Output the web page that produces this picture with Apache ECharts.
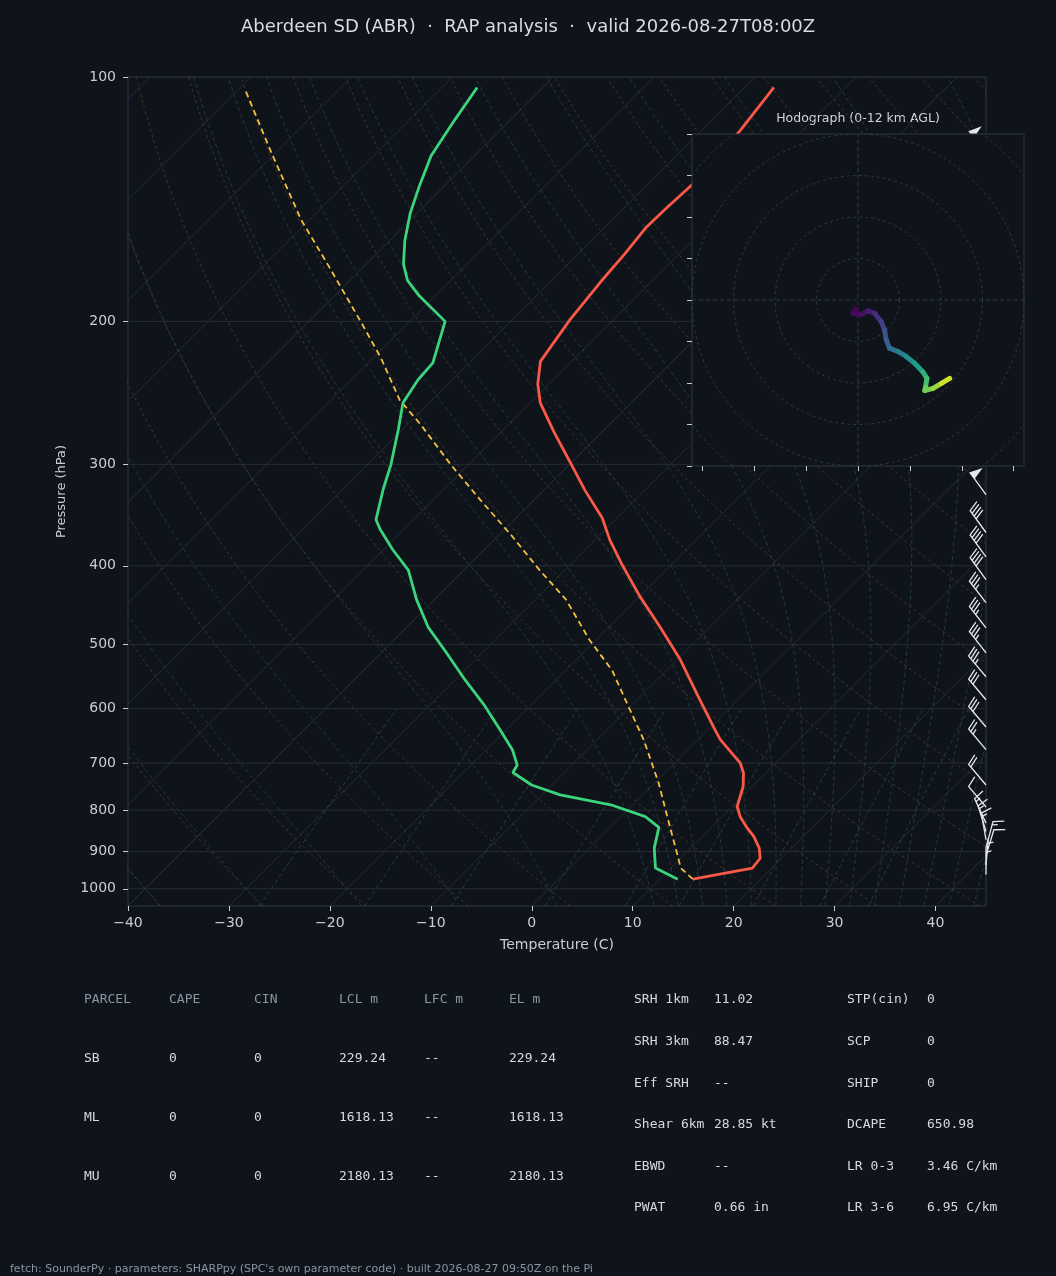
<!DOCTYPE html>
<html>
<head>
<meta charset="utf-8">
<title>Skew-T ABR</title>
<script src="https://cdn.jsdelivr.net/npm/echarts@6/dist/echarts.min.js"></script>
<style>
html, body { margin: 0; padding: 0; background: #0f131a; }
#chart { width: 1056px; height: 1276px; }
</style>
</head>
<body>
<div id="chart"></div>
<script>
// sounding (hPa / degC)
var tempP = [973, 943, 917, 891, 862, 840, 815, 792, 773, 748, 720, 700, 655, 637, 577, 522, 477, 436, 400, 372, 349, 323, 298, 274, 252, 239, 224, 199, 179, 165, 153, 145, 133, 116, 103];
var tempC = [13.3, 18.1, 17.9, 16.8, 15.1, 13.5, 11.8, 10.5, 9.9, 9.1, 7.8, 6.5, 2.2, 0.7, -4.5, -9.7, -14.8, -20.0, -24.7, -28.5, -31.5, -35.9, -40.2, -44.7, -49.0, -51.1, -53.1, -54.3, -55.0, -55.4, -55.9, -55.8, -55.5, -56.2, -57.1];
var dewP = [973, 943, 891, 840, 815, 788, 766, 745, 719, 704, 674, 637, 593, 553, 508, 476, 440, 405, 382, 361, 351, 322, 300, 272, 252, 236, 225, 200, 186, 178, 170, 159, 147, 136, 125, 113, 103];
var dewC = [11.8, 8.5, 6.4, 4.8, 2.4, -2.2, -8.2, -12.0, -15.1, -15.4, -17.4, -20.6, -24.7, -29.0, -34.0, -37.9, -41.8, -45.5, -49.1, -52.3, -53.7, -56.0, -57.7, -60.4, -62.6, -63.4, -63.6, -66.5, -71.6, -74.3, -76.3, -78.5, -80.7, -82.5, -84.3, -85.5, -86.5];
var parcelP = [973, 943, 913, 838, 741, 655, 602, 538, 494, 440, 405, 366, 332, 300, 268, 250, 222, 201, 171, 150, 124, 104];
var parcelC = [13.3, 11.0, 9.6, 5.8, 0.4, -5.4, -9.7, -15.4, -20.6, -27.0, -32.5, -38.9, -45.3, -51.8, -58.7, -63.2, -69.2, -74.6, -83.5, -90.8, -100.4, -109.1];

// wind barbs: pressure, speed (kt), direction (deg)
var barbP = [124, 150, 175, 200, 225, 250, 275, 300, 327, 364, 390, 416, 444, 477, 512, 548, 585, 632, 674, 745, 793, 830, 850, 870, 890, 910, 935, 960];
var barbSpd = [55, 55, 55, 55, 55, 50, 50, 50, 50, 40, 40, 40, 35, 35, 35, 35, 30, 30, 25, 20, 10, 15, 15, 15, 15, 10, 5, 5];
var barbDir = [322, 322, 322, 322, 324, 324, 324, 324, 324, 324, 324, 324, 322, 322, 322, 320, 320, 320, 320, 320, 320, 335, 343, 350, 15, 17, 5, 0];

// hodograph (u, v) and height km
var hodoU = [-0.6, -1.2, 0.8, 2.4, 4.0, 5.6, 6.4, 6.8, 7.6, 9.6, 11.6, 13.6, 15.6, 16.6, 16.3, 16.1, 18.1, 20.1, 22.1];
var hodoV = [-2.0, -3.2, -3.5, -2.6, -3.2, -5.2, -7.2, -9.6, -11.6, -12.4, -13.6, -15.2, -17.3, -18.9, -20.9, -21.8, -21.3, -20.1, -18.9];
var hodoH = [0, 0.3, 0.6, 1.0, 1.6, 2.3, 3.0, 3.6, 4.3, 5.0, 5.8, 6.6, 7.6, 8.4, 9.0, 9.4, 10.2, 11.1, 12.0];

var tempTicks = [-40, -30, -20, -10, 0, 10, 20, 30, 40];
var presTicks = [100, 200, 300, 400, 500, 600, 700, 800, 900, 1000];
var hodoXTicks = [-37.5, -25, -12.5, 0, 12.5, 25, 37.5];
var hodoYTicks = [-40, -30, -20, -10, 0, 10, 20, 30, 40];

var parcelHeader = ['PARCEL', 'CAPE', 'CIN', 'LCL m', 'LFC m', 'EL m'];
var parcelRows = [
    ['SB', '0', '0', '229.24', '--', '229.24'],
    ['ML', '0', '0', '1618.13', '--', '1618.13'],
    ['MU', '0', '0', '2180.13', '--', '2180.13']
];
var paramsA = [['SRH 1km', '11.02'], ['SRH 3km', '88.47'], ['Eff SRH', '--'], ['Shear 6km', '28.85 kt'], ['EBWD', '--'], ['PWAT', '0.66 in']];
var paramsB = [['STP(cin)', '0'], ['SCP', '0'], ['SHIP', '0'], ['DCAPE', '650.98'], ['LR 0-3', '3.46 C/km'], ['LR 3-6', '6.95 C/km']];

var titleText = 'Aberdeen SD (ABR)  \u00b7  RAP analysis  \u00b7  valid 2026-08-27T08:00Z';
var footerText = "fetch: SounderPy \u00b7 parameters: SHARPpy (SPC's own parameter code) \u00b7 built 2026-08-27 09:50Z on the Pi";

var BG = '#0f131a';
var FRAME = '#2e3846';
var TICK = '#c9ced6';
var SANS = 'DejaVu Sans';
var MONO = 'DejaVu Sans Mono';

// skew-T geometry: 45 degree isotherms
var P_BOT = 1050, P_TOP = 100;
var LOG_BOT = Math.log10(P_BOT);
var SKEW = 80.42;
function skewX(p, t) { return t + SKEW * (LOG_BOT - Math.log10(p)); }
function pt(p, t) { return [skewX(p, t), Math.log10(p)]; }

var series = [];
function bgLine(data, color, dash) {
    series.push({
        type: 'line', xAxisIndex: 0, yAxisIndex: 0, data: data, symbol: 'none',
        silent: true, clip: true, z: 1,
        lineStyle: { color: color, width: 1, type: dash || 'solid' }
    });
}

var levels = [];
for (var lp = 1050; lp >= 100; lp -= 10) levels.push(lp);

// isobars
presTicks.forEach(function (p) {
    bgLine([[-40, Math.log10(p)], [45, Math.log10(p)]], '#262d37');
});
// isotherms
for (var it = -130; it <= 40; it += 10) {
    bgLine([pt(P_BOT, it), pt(P_TOP, it)], '#262d37');
}
// dry adiabats
for (var th = -40; th <= 200; th += 10) {
    bgLine(levels.map(function (p) {
        return pt(p, (th + 273.15) * Math.pow(p / 1000, 0.2857) - 273.15);
    }), '#42372a', [3, 3]);
}
// moist adiabats
function moistCurve(t0) {
    var Rd = 287.04749, Cp = 1004.6662, Lv = 2.501e6, eps = 0.622;
    function f(p, T) {
        var tc = T - 273.15;
        var e = 6.112 * Math.exp(17.67 * tc / (tc + 243.5));
        var r = eps * e / (p - e);
        return (Rd * T + Lv * r) / (Cp + Lv * Lv * r * eps / (Rd * T * T)) / p;
    }
    function run(pEnd, h) {
        var out = [], p = 1000, T = t0 + 273.15;
        while ((h < 0 && p > pEnd) || (h > 0 && p < pEnd)) {
            var k1 = f(p, T), k2 = f(p + h / 2, T + h / 2 * k1);
            var k3 = f(p + h / 2, T + h / 2 * k2), k4 = f(p + h, T + h * k3);
            T += h / 6 * (k1 + 2 * k2 + 2 * k3 + k4);
            p += h;
            out.push(pt(p, T - 273.15));
        }
        return out;
    }
    return run(1050, 5).reverse().concat([pt(1000, t0)], run(100, -5));
}
var moistT0 = [-50, -40, -30, -20, -10, 0, 10];
for (var mt = 12.5; mt <= 45; mt += 2.5) moistT0.push(mt);
moistT0.forEach(function (t0) { bgLine(moistCurve(t0), '#233a44', [4, 3]); });
// mixing ratio lines
[0.0004, 0.001, 0.002, 0.004, 0.007, 0.01, 0.016, 0.024, 0.032].forEach(function (w) {
    var d = [];
    for (var p = 1050; p >= 600; p -= 10) {
        var e = p * w / (0.622 + w);
        var l = Math.log(e / 6.112);
        d.push(pt(p, 243.5 * l / (17.67 - l)));
    }
    bgLine(d, '#27403f', [4, 3]);
});

// profiles
function profile(ps, ts, color, width, dash, z) {
    series.push({
        type: 'line', xAxisIndex: 0, yAxisIndex: 0, symbol: 'none', silent: true, z: z,
        data: ps.map(function (p, i) { return pt(p, ts[i]); }),
        lineStyle: { color: color, width: width, type: dash || 'solid' }
    });
}
profile(parcelP, parcelC, '#f2c13f', 1.8, [6, 4], 4);
profile(dewP, dewC, '#3bd47d', 2.8, null, 5);
profile(tempP, tempC, '#fb5947', 2.8, null, 5);

// wind barbs at the right edge
function barbShape(x0, y0, spd, dir) {
    var L = 27, H = 0.4 * L, W = 0.25 * L, S = 0.125 * L;
    var r = Math.round(spd / 5) * 5;
    var nf = Math.floor(r / 50), rem = r - nf * 50;
    var nb = Math.floor(rem / 10), half = (rem - nb * 10) >= 5;
    var d = dir * Math.PI / 180;
    var sx = Math.sin(d), sy = -Math.cos(d), fx = Math.cos(d), fy = Math.sin(d);
    function P(a, b) { return [x0 + b * sx + a * fx, y0 + b * sy + a * fy]; }
    var pts = [P(0, 0)], off = L, i;
    for (i = 0; i < nf; i++) {
        if (off !== L) off += S / 2;
        pts.push(P(0, off), P(H, off - W / 2), P(0, off - W));
        off -= W + S;
    }
    for (i = 0; i < nb; i++) {
        pts.push(P(0, off), P(H, off + W / 2), P(0, off));
        off -= S;
    }
    if (half) {
        if (off === L) { pts.push(P(0, off)); off -= 1.5 * S; }
        pts.push(P(0, off), P(H / 2, off + W / 4), P(0, off));
    }
    return pts;
}
series.push({
    type: 'custom', xAxisIndex: 0, yAxisIndex: 0, z: 6, silent: true, clip: false,
    data: barbP.map(function (p, i) { return [45, Math.log10(p), barbSpd[i], barbDir[i]]; }),
    renderItem: function (params, api) {
        var c = api.coord([api.value(0), api.value(1)]);
        return {
            type: 'polygon',
            shape: { points: barbShape(c[0], c[1], api.value(2), api.value(3)) },
            style: { fill: '#e4e7ec', stroke: '#e4e7ec', lineWidth: 1.3 }
        };
    }
});

// hodograph inset
function hodoLine(data, dash) {
    series.push({
        type: 'line', xAxisIndex: 1, yAxisIndex: 1, data: data, symbol: 'none',
        silent: true, clip: true, z: 21,
        lineStyle: { color: FRAME, width: 1, type: dash }
    });
}
for (var rr = 10; rr <= 60; rr += 10) {
    var ring = [];
    for (var a = 0; a <= 360; a += 2) {
        ring.push([rr * Math.cos(a * Math.PI / 180), rr * Math.sin(a * Math.PI / 180)]);
    }
    hodoLine(ring, [3, 3]);
}
hodoLine([[-40, 0], [40, 0]], [4, 3]);
hodoLine([[0, -40], [0, 40]], [4, 3]);

var hodoIndex = series.length;
series.push({
    type: 'custom', xAxisIndex: 1, yAxisIndex: 1, z: 22, silent: true,
    data: hodoU.slice(0, -1).map(function (u, i) {
        return [u, hodoV[i], hodoH[i], hodoU[i + 1], hodoV[i + 1]];
    }),
    renderItem: function (params, api) {
        var p1 = api.coord([api.value(0), api.value(1)]);
        var p2 = api.coord([api.value(3), api.value(4)]);
        return {
            type: 'line',
            shape: { x1: p1[0], y1: p1[1], x2: p2[0], y2: p2[1] },
            style: { stroke: api.visual('color'), lineWidth: 5, lineCap: 'round' }
        };
    }
});

// texts
var graphics = [];
function txt(x, y, s, size, color, family, align) {
    graphics.push({
        type: 'text', x: x, y: y, silent: true,
        style: {
            text: s, fill: color, fontSize: size, fontFamily: family,
            align: align || 'left', textAlign: align || 'left',
            verticalAlign: 'middle', textVerticalAlign: 'middle'
        }
    });
}
txt(528, 27, titleText, 18, '#d8dce3', SANS, 'center');
txt(858, 119, 'Hodograph (0-12 km AGL)', 12.5, '#d0d4da', SANS, 'center');
var colX = [84, 169, 254, 339, 424, 509];
parcelHeader.forEach(function (h, i) { txt(colX[i], 1000, h, 13, '#8a96a6', MONO); });
parcelRows.forEach(function (row, r) {
    row.forEach(function (v, i) { txt(colX[i], 1059 + r * 59, v, 13, '#d6dae0', MONO); });
});
var rowY = [1000, 1042, 1084, 1125, 1167, 1208];
paramsA.forEach(function (p, i) {
    txt(634, rowY[i], p[0], 13, '#d6dae0', MONO);
    txt(714, rowY[i], p[1], 13, '#d6dae0', MONO);
});
paramsB.forEach(function (p, i) {
    txt(847, rowY[i], p[0], 13, '#d6dae0', MONO);
    txt(927, rowY[i], p[1], 13, '#d6dae0', MONO);
});
txt(10, 1269, footerText, 11, '#8a94a3', SANS);

var chart = echarts.init(document.getElementById('chart'));
chart.setOption({
    backgroundColor: BG,
    animation: false,
    grid: [
        { left: 128, top: 77, width: 858, height: 829, show: true, borderColor: FRAME, borderWidth: 1 },
        { left: 692, top: 134, width: 332, height: 332, show: true, borderColor: FRAME, borderWidth: 1, backgroundColor: BG, z: 20 }
    ],
    xAxis: [
        {
            type: 'value', gridIndex: 0, min: -40, max: 45, position: 'bottom',
            axisLine: { show: false, onZero: false }, splitLine: { show: false },
            axisTick: { customValues: tempTicks, length: 5, lineStyle: { color: TICK } },
            axisLabel: {
                customValues: tempTicks, color: TICK, fontSize: 14, fontFamily: SANS, margin: 10,
                formatter: function (v) { return v < 0 ? '\u2212' + (-v) : String(v); }
            },
            name: 'Temperature (C)', nameLocation: 'middle', nameGap: 32,
            nameTextStyle: { color: TICK, fontSize: 14, fontFamily: SANS }
        },
        {
            type: 'value', gridIndex: 1, min: -40, max: 40, z: 21, position: 'bottom',
            axisLine: { show: false, onZero: false }, splitLine: { show: false }, axisLabel: { show: false },
            axisTick: { customValues: hodoXTicks, length: 5, lineStyle: { color: TICK } }
        }
    ],
    yAxis: [
        {
            type: 'value', gridIndex: 0, inverse: true, min: 2, max: LOG_BOT, position: 'left',
            axisLine: { show: false, onZero: false }, splitLine: { show: false },
            axisTick: { customValues: presTicks.map(Math.log10), length: 5, lineStyle: { color: TICK } },
            axisLabel: {
                customValues: presTicks.map(Math.log10), color: TICK, fontSize: 14, fontFamily: SANS, margin: 12,
                formatter: function (v) { return String(Math.round(Math.pow(10, v))); }
            },
            name: 'Pressure (hPa)', nameLocation: 'middle', nameGap: 60, nameRotate: 90,
            nameTextStyle: { color: TICK, fontSize: 13, fontFamily: SANS }
        },
        {
            type: 'value', gridIndex: 1, min: -40, max: 40, z: 21, position: 'left',
            axisLine: { show: false, onZero: false }, splitLine: { show: false }, axisLabel: { show: false },
            axisTick: { customValues: hodoYTicks, length: 5, lineStyle: { color: TICK } }
        }
    ],
    visualMap: {
        type: 'continuous', show: false, seriesIndex: hodoIndex, dimension: 2, min: 0, max: 12,
        inRange: { color: ['#440154', '#482878', '#3e4989', '#31688e', '#26828e', '#1f9e89', '#35b779', '#6ece58', '#b5de2b', '#fde725'] }
    },
    graphic: graphics,
    series: series
});
</script>
</body>
</html>
